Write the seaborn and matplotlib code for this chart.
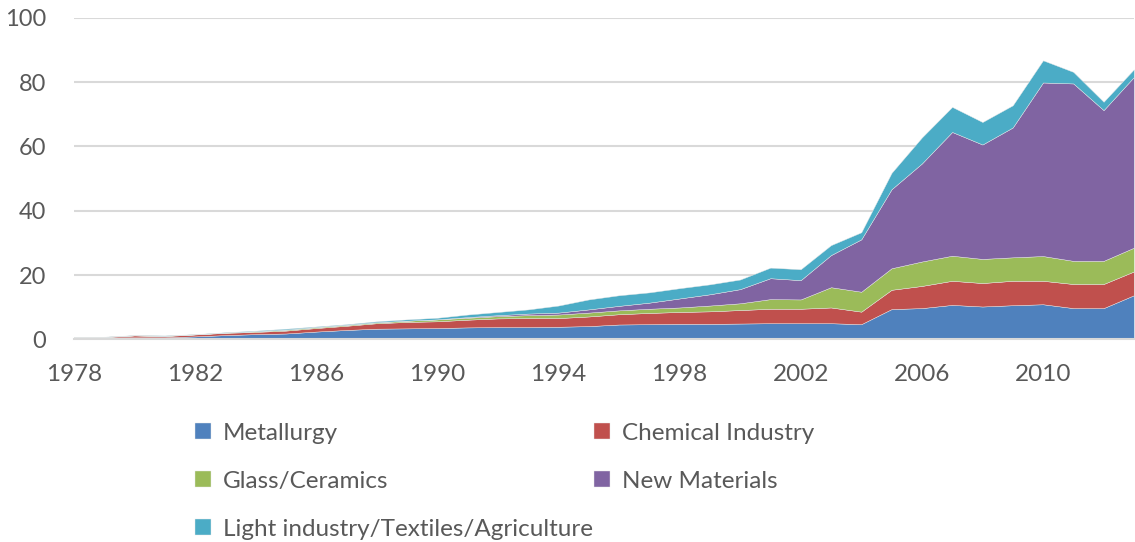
import seaborn as sns
import pandas as pd
import matplotlib.pyplot as plt

# data
years = list(range(1978, 2014))
metallurgy = [0.6, 0.6, 0.6, 0.6, 0.9, 1.3, 1.6, 1.8, 2.4, 2.9, 3.3, 3.4, 3.5, 3.7, 3.8, 3.8, 3.9, 4.1,
              4.6, 4.7, 4.8, 4.8, 4.9, 5.0, 5.0, 5.0, 4.7, 9.4, 9.7, 10.7, 10.2, 10.6, 10.9, 9.7, 9.7, 13.7]
chemical = [0.1, 0.1, 0.6, 0.4, 0.6, 0.7, 0.7, 0.9, 1.1, 1.3, 1.7, 2.0, 2.1, 2.4, 2.7, 2.8, 2.7, 3.0,
            3.2, 3.5, 3.7, 3.9, 4.2, 4.5, 4.5, 4.9, 3.9, 6.0, 6.9, 7.5, 7.3, 7.6, 7.3, 7.5, 7.5, 7.4]
glass = [0.05, 0.05, 0.05, 0.1, 0.05, 0.1, 0.2, 0.3, 0.3, 0.3, 0.3, 0.4, 0.6, 0.6, 0.7, 0.9, 1.1, 1.2,
         1.2, 1.3, 1.4, 1.8, 2.1, 3.0, 2.9, 6.3, 6.2, 6.7, 7.6, 7.8, 7.5, 7.3, 7.7, 7.2, 7.2, 7.4]
new_materials = [0, 0, 0, 0, 0, 0, 0, 0, 0, 0, 0, 0, 0, 0.2, 0.3, 0.5, 0.6, 1.0,
                 1.4, 1.9, 2.8, 3.5, 4.4, 6.5, 6.0, 10.0, 16.3, 24.6, 30.5, 38.5, 35.6, 40.4, 54.0, 55.2, 46.9, 53.1]
light = [0.05, 0.05, 0.05, 0.1, 0.05, 0.1, 0.2, 0.3, 0.2, 0.2, 0.3, 0.4, 0.5, 0.8, 1.0, 1.3, 2.2, 3.1,
         3.3, 3.2, 3.2, 3.1, 3.0, 3.3, 3.4, 3.1, 2.2, 5.1, 8.1, 7.8, 7.0, 6.9, 6.9, 3.6, 2.6, 2.4]

series_names = ['Metallurgy', 'Chemical Industry', 'Glass/Ceramics', 'New Materials',
                'Light industry/Textiles/Agriculture']
colors = ['#4F81BD', '#C0504D', '#9BBB59', '#8064A2', '#4BACC6']

df = pd.DataFrame({
    'Metallurgy': metallurgy,
    'Chemical Industry': chemical,
    'Glass/Ceramics': glass,
    'New Materials': new_materials,
    'Light industry/Textiles/Agriculture': light,
}, index=years)

sns.set_style('white')
plt.rcParams['font.family'] = ['Lato', 'DejaVu Sans']
text_color = '#595959'
grid_color = '#D9D9D9'

fig = plt.figure(figsize=(11.35, 5.42), dpi=100)
ax = fig.add_axes([0.065, 0.374, 0.934, 0.593])

polys = ax.stackplot(df.index, *[df[c] for c in series_names], labels=series_names,
                     colors=sns.color_palette(colors), linewidth=0.3, edgecolor='#E8E8E8', alpha=1)

ax.set_xlim(1978, 2013)
ax.set_ylim(0, 100)
ax.set_yticks(range(0, 101, 20))
ax.yaxis.grid(True, color=grid_color, linewidth=1.5)
ax.set_axisbelow(True)

ax.set_xticks(years)
ax.set_xticklabels([str(y) if (y - 1978) % 4 == 0 else '' for y in years])
ax.tick_params(axis='x', length=8, width=1.5, color=grid_color, labelcolor=text_color,
               labelsize=17.5, pad=10)
ax.tick_params(axis='y', length=0, labelcolor=text_color, labelsize=17, pad=20)

for s in ['top', 'right', 'left']:
    ax.spines[s].set_visible(False)
ax.spines['bottom'].set_color(grid_color)
ax.spines['bottom'].set_linewidth(1.5)

# legend laid out row by row like the reference
order = [0, 2, 4, 1, 3]
handles = [polys[i] for i in order]
labels = [series_names[i] for i in order]
leg = fig.legend(handles, labels, ncol=2, loc='upper left', bbox_to_anchor=(0.163, 0.238),
                 frameon=False, fontsize=17.5, handlelength=0.65, handleheight=0.65,
                 handletextpad=0.5, columnspacing=0.05, labelspacing=1.11, borderaxespad=0)
for t in leg.get_texts():
    t.set_color(text_color)

plt.savefig('out.png', dpi=100)
